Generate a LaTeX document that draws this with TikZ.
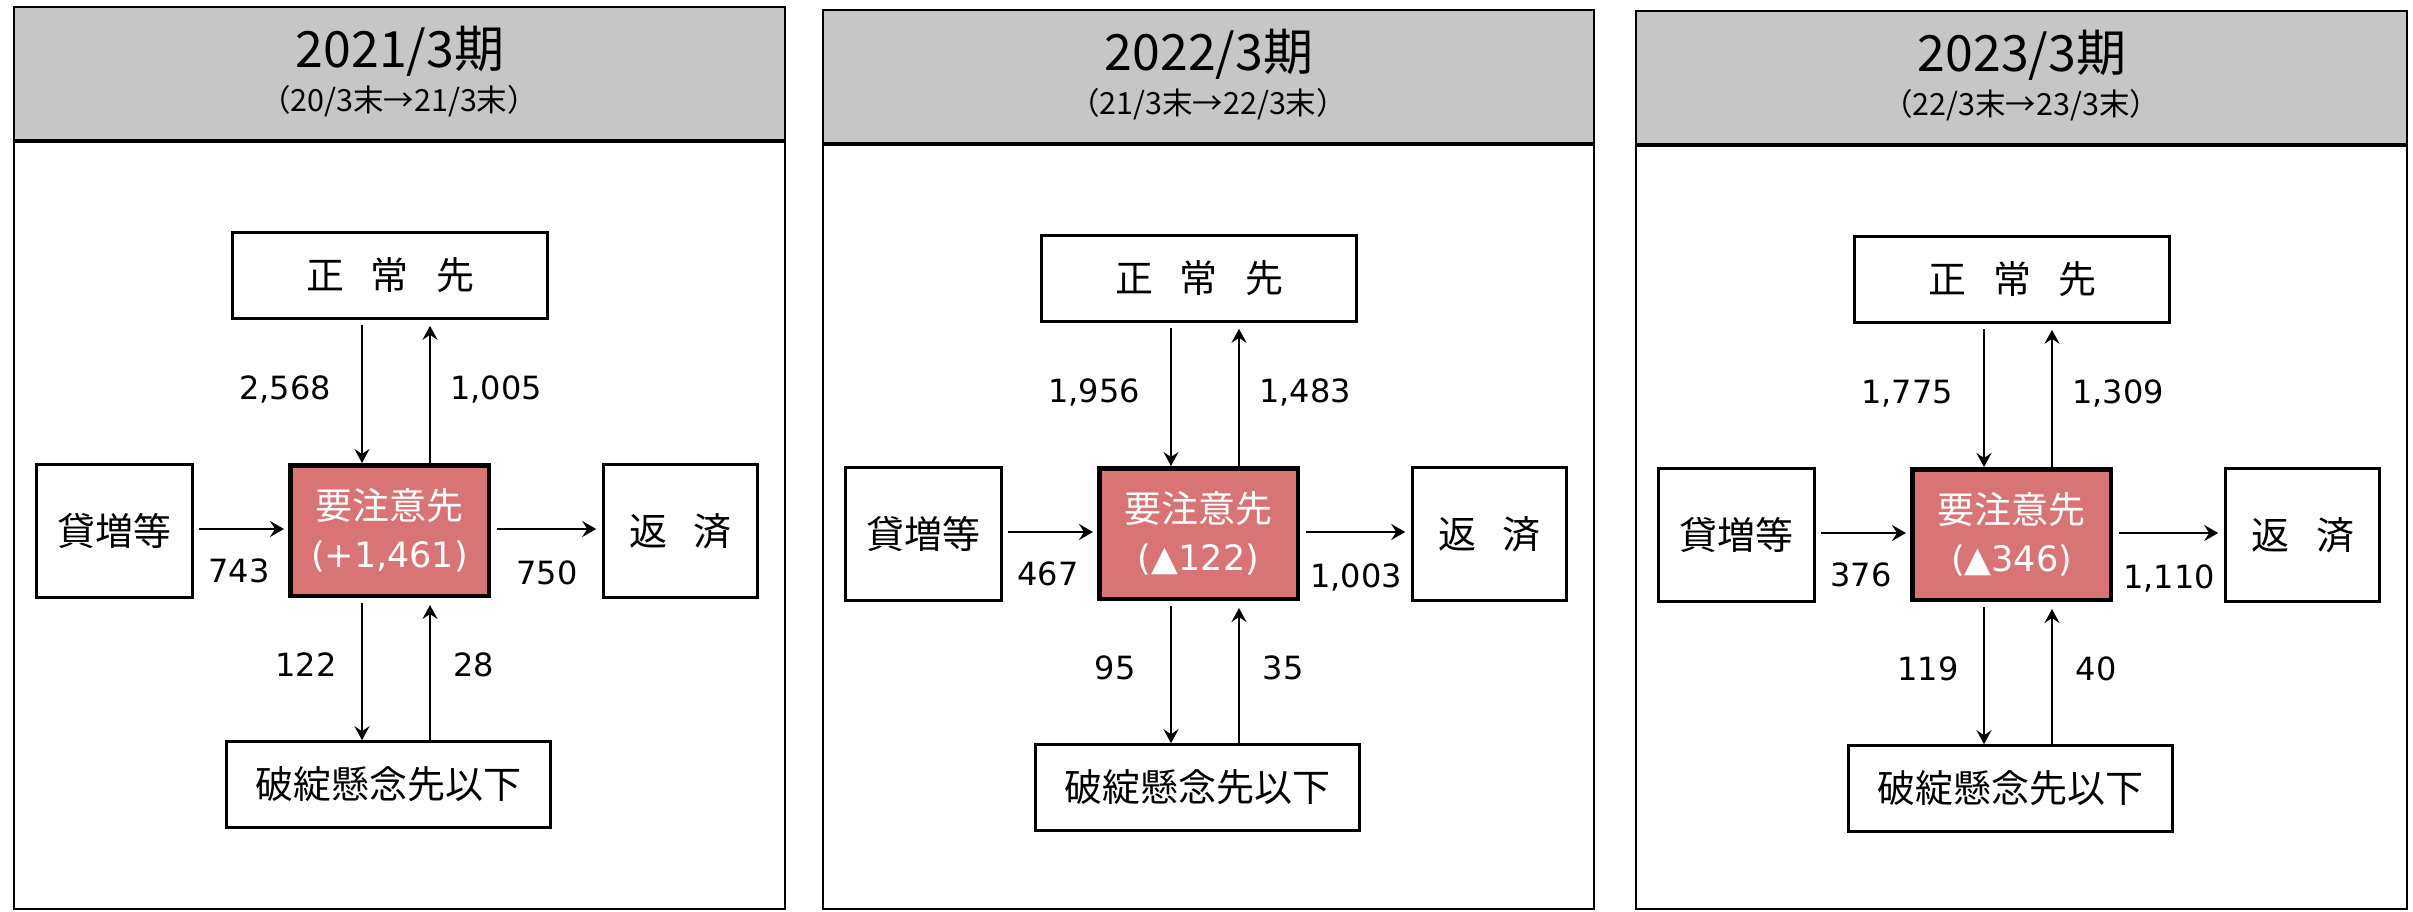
\documentclass[tikz,border=0pt]{standalone}
\usepackage{fontspec}
\setmainfont{Noto Sans CJK JP}
\newfontfamily\latf{DejaVu Sans}
\usetikzlibrary{arrows.meta}
\definecolor{hdrgray}{RGB}{198,198,198}
\definecolor{warnred}{RGB}{217,116,117}
\tikzset{
  frame/.style={draw=black, line width=2.5pt},
  box/.style={draw=black, line width=2.6pt, fill=white, inner sep=0pt, font=\fontsize{38}{44}\selectfont},
  redbox/.style={draw=black, line width=4.5pt, fill=warnred, inner sep=0pt, text=white, align=center, font=\fontsize{37}{48}\selectfont},
  varr/.style={line width=2.2pt, -{Stealth[length=14pt,width=15pt,inset=5pt]}},
  harr/.style={line width=2.8pt, -{Stealth[length=14pt,width=16pt,inset=5pt]}},
  num/.style={font=\latf\fontsize{32}{38}\selectfont, inner sep=0pt, text depth=0pt},
  ttl/.style={font=\fontsize{50}{56}\selectfont, inner sep=0pt},
  subttl/.style={font=\fontsize{30.5}{34}\selectfont, inner sep=0pt},
}
\newcommand\flowpanel[6]{%
\begin{scope}[shift={(#2,#3)}]
  \fill[hdrgray] (14,7) rectangle (785,141);
  \draw[line width=4pt] (14,141) -- (785,141);
  \draw[frame] (14,7) rectangle (785,{909-#3});
  \node[ttl] (#1t) at (400,51) {#4};
  \node[subttl] (#1u) at (399,101) {#5};
  \node[box, minimum width=315pt, minimum height=86pt] (#1s) at (390,275.5) {正\hspace{27pt}常\hspace{27pt}先};
  \node[box, minimum width=156pt, minimum height=133pt] (#1k) at (114.5,531) {貸増等};
  \node[redbox, minimum width=198.5pt, minimum height=130.5pt] (#1r) at (389.5,530.5)
     {要注意先\\{\latf\fontsize{35}{48}\selectfont #6}};
  \node[box, minimum width=154pt, minimum height=133pt] (#1h) at (680.5,531) {返\hspace{27pt}済};
  \node[box, minimum width=324pt, minimum height=86pt] (#1b) at (388.5,784.5) {破綻懸念先以下};
  \coordinate (#1xa) at (362,0);
  \coordinate (#1xb) at (430,0);
  \coordinate (#1ym) at (0,529);
  \draw[varr, shorten <=5pt] (#1s.south -| #1xa) -- (#1r.north -| #1xa);
  \draw[varr, shorten >=6pt] (#1r.north -| #1xb) -- (#1s.south -| #1xb);
  \draw[varr, shorten <=5pt] (#1r.south -| #1xa) -- (#1b.north -| #1xa);
  \draw[varr, shorten >=7pt] (#1b.north -| #1xb) -- (#1r.south -| #1xb);
  \draw[harr, shorten <=5pt, shorten >=4pt] (#1k.east |- #1ym) -- (#1r.west |- #1ym);
  \draw[harr, shorten <=6pt, shorten >=6pt] (#1r.east |- #1ym) -- (#1h.west |- #1ym);
\end{scope}}
\newcommand\flowlabels[9]{%
\begin{scope}[shift={(#2,#3)}]
  \node[num] (#1n1) at (285,388) {#4};
  \node[num] (#1n2) at (496,388) {#5};
  \node[num] (#1n3) at (239,571) {#6};
  \node[num] (#1n4) at (547,573) {#7};
  \node[num] (#1n5) at (306,665) {#8};
  \node[num] (#1n6) at (474,665) {#9};
\end{scope}}
\begin{document}
\begin{tikzpicture}[x=1pt,y=-1pt]
  \useasboundingbox (0,0) rectangle (2413,911);
  \fill[white] (0,0) rectangle (2413,911);
  \flowpanel{pa}{0}{0}{2021/3期}{（20/3末→21/3末）}{(+1,461)}
  \flowlabels{pa}{0}{0}{2,568}{1,005}{743}{750}{122}{28}
  \flowpanel{pb}{809}{3}{2022/3期}{（21/3末→22/3末）}{(▲122)}
  \flowlabels{pb}{809}{3}{1,956}{1,483}{467}{1,003}{95}{35}
  \flowpanel{pc}{1622}{4}{2023/3期}{（22/3末→23/3末）}{(▲346)}
  \flowlabels{pc}{1622}{4}{1,775}{1,309}{376}{1,110}{119}{40}
\end{tikzpicture}
\end{document}
